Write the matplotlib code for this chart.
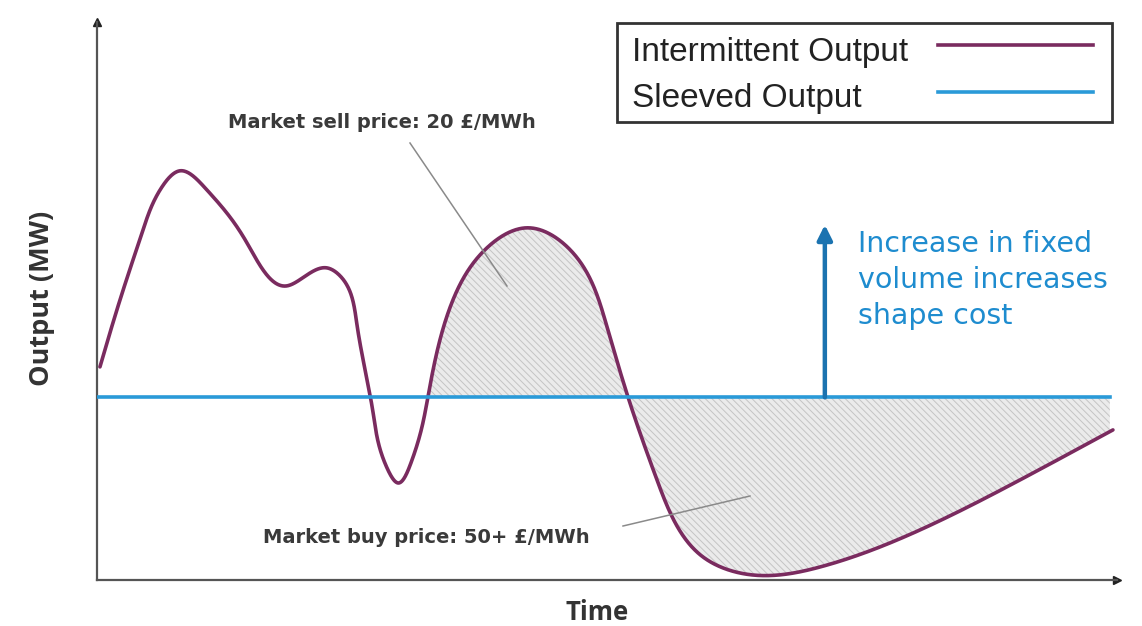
import numpy as np
import matplotlib
matplotlib.use("Agg")
import matplotlib.pyplot as plt
from matplotlib.lines import Line2D
from matplotlib.patches import Rectangle

# intermittent output (time 0-100, output 0-100)
time = [0.29, 2.26, 4.52, 6.39, 8.15, 10.61, 14.73, 18.66, 22.59, 23.97, 25.54,
        27.11, 28.49, 29.57, 30.84, 32.51, 34.97, 38.31, 42.24, 46.76, 50.10,
        52.16, 55.01, 59.53, 64.44, 71.02, 80.84, 90.67, 99.80]
output = [38.04, 50.00, 62.50, 70.18, 73.04, 70.00, 60.18, 52.50, 55.71, 54.11,
          45.54, 30.00, 20.00, 17.32, 20.89, 32.68, 50.00, 59.29, 62.86, 58.39,
          45.18, 32.68, 17.86, 4.11, 0.89, 2.32, 8.93, 17.86, 26.79]

sleeved_level = 32.6
sleeved_end = 99.5
shade_start = 32.5      # shading only from the second crossing on
increased_level = 63.4
arrow_time = 71.5

labels = ["Intermittent Output", "Sleeved Output"]

purple = "#7a2b5f"
light_blue = "#2a9ad8"
dark_blue = "#1b73b0"
W, H = 1142, 626


def fx(px):
    return px / W


def fy(py):
    return 1 - py / H


def natural_spline(t, v, tt):
    n = len(t)
    h = np.diff(t)
    A = np.zeros((n, n))
    b = np.zeros(n)
    A[0, 0] = A[-1, -1] = 1
    for i in range(1, n - 1):
        A[i, i - 1] = h[i - 1]
        A[i, i] = 2 * (h[i - 1] + h[i])
        A[i, i + 1] = h[i]
        b[i] = 6 * ((v[i + 1] - v[i]) / h[i] - (v[i] - v[i - 1]) / h[i - 1])
    M = np.linalg.solve(A, b)
    k = np.clip(np.searchsorted(t, tt) - 1, 0, n - 2)
    hk = h[k]
    a = t[k + 1] - tt
    c = tt - t[k]
    return (M[k] * a ** 3 / (6 * hk) + M[k + 1] * c ** 3 / (6 * hk)
            + (v[k] / hk - M[k] * hk / 6) * a + (v[k + 1] / hk - M[k + 1] * hk / 6) * c)


def smooth(x, y, sx=10.18, sy=5.6):
    # parametric cubic spline through the read points (chord length in pixels)
    px = np.asarray(x, float) * sx
    py = np.asarray(y, float) * sy
    t = np.concatenate([[0], np.cumsum(np.hypot(np.diff(px), np.diff(py)))])
    tt = np.linspace(0, t[-1], 3000)
    return natural_spline(t, px, tt) / sx, natural_spline(t, py, tt) / sy


xs, ys = smooth(time, output)

plt.rcParams["hatch.linewidth"] = 0.7
plt.rcParams["hatch.color"] = "#c4c4c4"

fig = plt.figure(figsize=(11.42, 6.26), dpi=100)
ax = fig.add_axes([fx(97), fy(580), 1020 / W, 558 / H])
ax.set_xlim(0, 100.2)
ax.set_ylim(0, 99.6)

# shaded shape (sell above, buy below)
m = (xs >= shade_start) & (xs <= sleeved_end)
ax.fill_between(xs[m], ys[m], sleeved_level, where=ys[m] >= sleeved_level,
                interpolate=True, facecolor="#ebebeb", hatch="\\\\\\\\\\", linewidth=0)
ax.fill_between(xs[m], ys[m], sleeved_level, where=ys[m] <= sleeved_level,
                interpolate=True, facecolor="#ebebeb", hatch="\\\\\\\\\\", linewidth=0)

ax.plot(xs, ys, color=purple, lw=2.6, solid_capstyle="round", zorder=3)
ax.plot([0, sleeved_end], [sleeved_level, sleeved_level], color=light_blue, lw=2.6, zorder=3)

# arrow
ax.annotate("", xy=(arrow_time, increased_level), xytext=(arrow_time, sleeved_level),
            arrowprops=dict(arrowstyle="-|>", color=dark_blue, lw=3.2,
                            mutation_scale=22, shrinkA=0, shrinkB=0), zorder=4)
for txt, base in zip(["Increase in fixed", "volume increases", "shape cost"], [252, 288, 324]):
    fig.text(fx(858), fy(base), txt, color="#1e8ccf", fontsize=20.5, family="DejaVu Sans",
             va="baseline", ha="left")

# annotations
fig.text(fx(228), fy(128), "Market sell price: 20 £/MWh", fontsize=14, family="DejaVu Sans",
         weight="bold", color="#3a3a3a", ha="left", va="baseline")
fig.add_artist(Line2D([fx(410), fx(507)], [fy(143), fy(286)], color="#8a8a8a", lw=1.1))
fig.text(fx(263), fy(543), "Market buy price: 50+ £/MWh", fontsize=14, family="DejaVu Sans",
         weight="bold", color="#3a3a3a", ha="left", va="baseline")
fig.add_artist(Line2D([fx(623), fx(750)], [fy(526), fy(496)], color="#8a8a8a", lw=1.1))

# axes with arrow heads
for side in ["top", "right"]:
    ax.spines[side].set_visible(False)
for side in ["left", "bottom"]:
    ax.spines[side].set_color("#555555")
    ax.spines[side].set_linewidth(1.6)
ax.set_xticks([])
ax.set_yticks([])
ax.plot(1, 0, ">", color="#222222", ms=6, transform=ax.get_yaxis_transform(), clip_on=False)
ax.plot(0, 1, "^", color="#222222", ms=6, transform=ax.get_xaxis_transform(), clip_on=False)

fig.text(fx(42), fy(298), "Output (MW)", rotation=90, fontsize=19.5, family="Open Sans",
         weight="bold", color="#333333", ha="center", va="center")
fig.text(fx(597), fy(612), "Time", fontsize=18.5, family="Open Sans",
         weight="bold", color="#333333", ha="center", va="center")

# legend box: text left, line sample right
fig.add_artist(Rectangle((fx(617), fy(122)), 495 / W, 99 / H, transform=fig.transFigure,
                         facecolor="white", edgecolor="#333333", lw=2, zorder=5))
for lab, col, base, ly in zip(labels, [purple, light_blue], [61, 107], [45, 92]):
    fig.text(fx(632), fy(base), lab, fontsize=24, family="Liberation Sans", color="#222222",
             ha="left", va="baseline", zorder=6)
    fig.add_artist(Line2D([fx(938), fx(1093)], [fy(ly), fy(ly)], color=col, lw=2.6, zorder=6))

fig.savefig("out.png", dpi=100)
